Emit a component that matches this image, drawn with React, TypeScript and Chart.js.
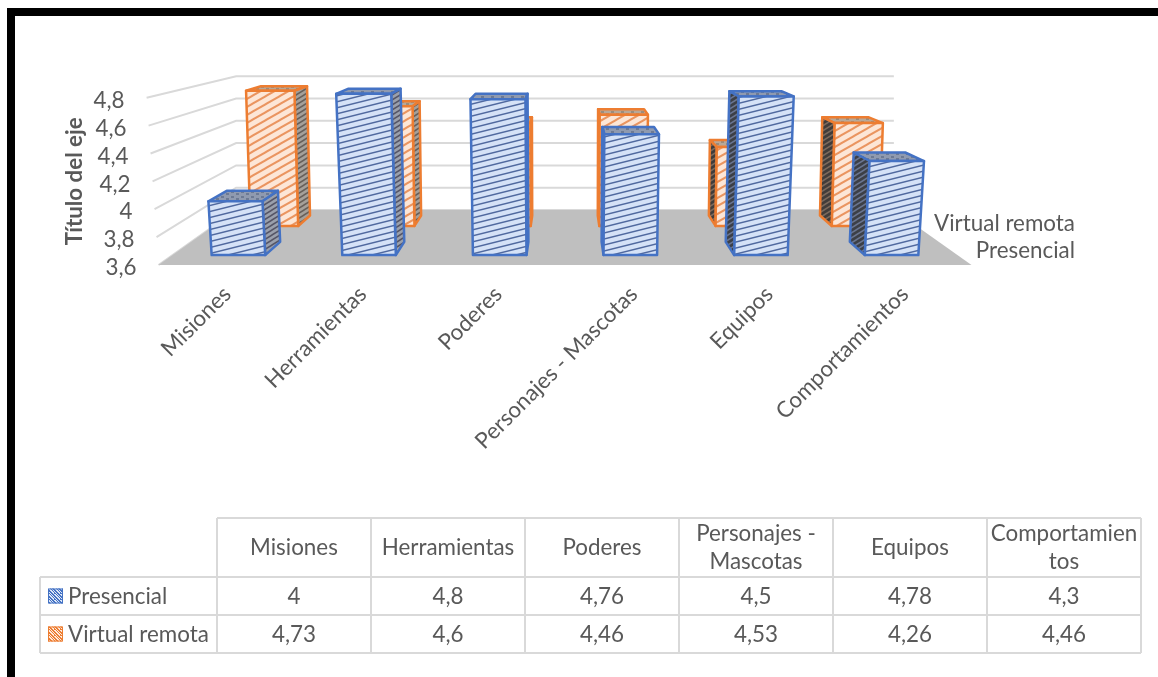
import { useEffect, useRef } from "react";
import { Chart, registerables } from "chart.js";

Chart.register(...registerables);

const categories = ["Misiones", "Herramientas", "Poderes", "Personajes - Mascotas", "Equipos", "Comportamientos"];
const tableHeaders = ["Misiones", "Herramientas", "Poderes", "Personajes -\nMascotas", "Equipos", "Comportamien\ntos"];
const presencial = [4, 4.8, 4.76, 4.5, 4.78, 4.3];
const virtualRemota = [4.73, 4.6, 4.46, 4.53, 4.26, 4.46];
const seriesNames = ["Presencial", "Virtual remota"];
const axisTitle = "Título del eje";
const AXIS_MIN = 3.6;
const AXIS_MAX = 4.8;

const FONT = "Lato";
const FONT_SIZE = 22.4;
const TEXT = "#595959";
const GRID = "#d9d9d9";
const BLUE = "#4472c4";
const ORANGE = "#ed7d31";

type Plane = { s: number; sx?: number; lean: number };

// Depth planes of the 3D box: scale towards the vanishing point, and how far verticals splay.
const FLOOR_FRONT: Plane = { s: 1, lean: 1.75e-4 };
const WALL: Plane = { s: 0.8, sx: 0.809, lean: 0 };
const FRONT_ROW = { near: { s: 0.964, lean: 1.7e-4 }, far: { s: 0.916, lean: 1.5e-4 } };
const BACK_ROW = { near: { s: 0.858, lean: 1.05e-4 }, far: { s: 0.82, lean: 0.9e-4 } };
const VANISH_Y = -10;

function hatch(bg: string, fg: string, w: number, h: number, lw: number) {
  const c = document.createElement("canvas");
  c.width = w;
  c.height = h;
  const g = c.getContext("2d")!;
  g.fillStyle = bg;
  g.fillRect(0, 0, w, h);
  g.strokeStyle = fg;
  g.lineWidth = lw;
  for (const oy of [-h, 0, h]) {
    g.beginPath();
    g.moveTo(-w, h + oy + h);
    g.lineTo(2 * w, oy - h);
    g.stroke();
  }
  return c;
}

function dots(bg: string, fg: string) {
  const c = document.createElement("canvas");
  c.width = 10;
  c.height = 5;
  const g = c.getContext("2d")!;
  g.fillStyle = bg;
  g.fillRect(0, 0, 10, 5);
  g.fillStyle = fg;
  g.fillRect(1, 1, 3, 2);
  g.fillRect(6, 3, 3, 2);
  return c;
}

function checker(bg: string, fg: string) {
  const c = document.createElement("canvas");
  c.width = 6;
  c.height = 6;
  const g = c.getContext("2d")!;
  g.fillStyle = bg;
  g.fillRect(0, 0, 6, 6);
  g.fillStyle = fg;
  for (let i = 0; i < 6; i++) {
    g.fillRect(i, i, 2, 1);
    g.fillRect((i + 3) % 6, i, 1, 1);
  }
  return c;
}

const solid3d = {
  id: "solid3d",
  beforeDatasetsDraw(chart: any) {
    const ctx: CanvasRenderingContext2D = chart.ctx;
    const { left, right, bottom } = chart.chartArea;
    const yScale = chart.scales.y;
    const cx = (left + right) / 2;

    const project = (p: Plane, x: number, y: number): [number, number] => {
      const py = VANISH_Y + (y - VANISH_Y) * p.s;
      const baseY = VANISH_Y + (bottom - VANISH_Y) * p.s;
      const splay = 1 + p.lean * (baseY - py);
      return [cx + (x - cx) * (p.sx ?? p.s) * splay, py];
    };
    const poly = (pts: [number, number][], fill: any, stroke?: string, lw = 2.5) => {
      ctx.beginPath();
      pts.forEach((q, i) => (i ? ctx.lineTo(q[0], q[1]) : ctx.moveTo(q[0], q[1])));
      ctx.closePath();
      ctx.fillStyle = fill;
      ctx.fill();
      if (stroke) {
        ctx.strokeStyle = stroke;
        ctx.lineWidth = lw;
        ctx.lineJoin = "round";
        ctx.stroke();
      }
    };

    ctx.save();

    // Back wall and side wall gridlines
    ctx.strokeStyle = GRID;
    ctx.lineWidth = 2;
    yScale.ticks.forEach((t: any) => {
      const y = yScale.getPixelForValue(t.value);
      const a = project(FLOOR_FRONT, left, y);
      const b = project(WALL, left, y);
      const c = project(WALL, right, y);
      ctx.beginPath();
      ctx.moveTo(a[0], a[1]);
      ctx.lineTo(b[0], b[1]);
      ctx.lineTo(c[0], c[1]);
      ctx.stroke();
    });

    // Floor
    poly(
      [project(FLOOR_FRONT, left, bottom), project(FLOOR_FRONT, right, bottom), project(WALL, right, bottom), project(WALL, left, bottom)],
      "#bfbfbf"
    );

    // Tick labels follow the slanted front edge of the side wall
    ctx.font = `${FONT_SIZE}px ${FONT}`;
    ctx.fillStyle = TEXT;
    ctx.textAlign = "right";
    ctx.textBaseline = "middle";
    yScale.ticks.forEach((t: any) => {
      const y = yScale.getPixelForValue(t.value);
      const a = project(FLOOR_FRONT, left, y);
      ctx.fillText(String(t.label), a[0] - 22, y + 3);
    });

    // Depth axis labels
    ctx.fillText(seriesNames[1], 1075, 223.5);
    ctx.fillText(seriesNames[0], 1075, 250.5);

    const pat = (c: HTMLCanvasElement) => ctx.createPattern(c, "repeat")!;
    const looks = [
      {
        row: FRONT_ROW,
        line: BLUE,
        front: pat(hatch("#d5e2f7", "#50699f", 24, 6, 1.5)),
        top: pat(dots("#8f9ab0", "#6d7a94")),
        sideL: pat(hatch("#3c3f46", "#6a7590", 8, 5, 1.5)),
        sideR: pat(hatch("#9aa0ac", "#556", 8, 5, 1.5)),
      },
      {
        row: BACK_ROW,
        line: ORANGE,
        front: pat(hatch("#fde6d6", "#ea9560", 14, 8, 2)),
        top: pat(dots("#b8a898", "#9b8c7c")),
        sideL: pat(hatch("#403c3a", "#7c6a5c", 8, 5, 1.5)),
        sideR: pat(hatch("#a5a09a", "#665f5a", 8, 5, 1.5)),
      },
    ];

    // The back row is painted first so the front row overlaps it
    [1, 0].forEach((di) => {
      const look = looks[di];
      chart.getDatasetMeta(di).data.forEach((bar: any) => {
        const hw = bar.width / 2;
        const x0 = bar.x - hw;
        const x1 = bar.x + hw;
        const top = bar.y;
        const base = bar.base;
        const { near, far } = look.row;
        const onLeft = project(near, bar.x, base)[0] < cx;
        const edge = onLeft ? x1 : x0;

        poly(
          [project(near, x0, top), project(far, x0, top), project(far, x1, top), project(near, x1, top)],
          look.top,
          look.line
        );
        poly(
          [project(near, edge, base), project(far, edge, base), project(far, edge, top), project(near, edge, top)],
          onLeft ? look.sideR : look.sideL,
          look.line
        );
        poly(
          [project(near, x0, base), project(near, x1, base), project(near, x1, top), project(near, x0, top)],
          look.front,
          look.line
        );
      });
    });

    ctx.restore();
    return false;
  },
  afterDraw(chart: any) {
    const ctx: CanvasRenderingContext2D = chart.ctx;
    ctx.save();

    // Data table under the plot
    const colX = [217, 371, 525, 679, 833, 987, 1141];
    const rowY = [518, 577, 615, 653];
    const leftX = 40;
    ctx.strokeStyle = GRID;
    ctx.lineWidth = 2;
    ctx.beginPath();
    ctx.moveTo(colX[0], rowY[0]);
    ctx.lineTo(colX[6], rowY[0]);
    [1, 2, 3].forEach((r) => {
      ctx.moveTo(leftX, rowY[r]);
      ctx.lineTo(colX[6], rowY[r]);
    });
    ctx.moveTo(leftX, rowY[1]);
    ctx.lineTo(leftX, rowY[3]);
    colX.forEach((x) => {
      ctx.moveTo(x, rowY[0]);
      ctx.lineTo(x, rowY[3]);
    });
    ctx.stroke();

    ctx.font = `${FONT_SIZE}px ${FONT}`;
    ctx.fillStyle = TEXT;
    ctx.textAlign = "center";
    ctx.textBaseline = "middle";
    tableHeaders.forEach((h, i) => {
      const lines = h.split("\n");
      const mid = (colX[i] + colX[i + 1]) / 2;
      lines.forEach((ln, k) => ctx.fillText(ln, mid, 547.5 + (k - (lines.length - 1) / 2) * 28));
    });
    [presencial, virtualRemota].forEach((vals, r) => {
      vals.forEach((v, i) => {
        ctx.fillText(String(v).replace(".", ","), (colX[i] + colX[i + 1]) / 2, (rowY[r + 1] + rowY[r + 2]) / 2 + 0.5);
      });
    });

    ctx.textAlign = "left";
    seriesNames.forEach((name, r) => {
      const cy = (rowY[r + 1] + rowY[r + 2]) / 2;
      ctx.fillStyle = TEXT;
      ctx.fillText(name, 68, cy + 0.5);
      ctx.fillStyle = ctx.createPattern(
        r === 0 ? checker(BLUE, "#dce7f8") : checker(ORANGE, "#fdeadd"),
        "repeat"
      )!;
      ctx.fillRect(48, cy - 7.5, 15, 15);
      ctx.strokeStyle = r === 0 ? BLUE : ORANGE;
      ctx.lineWidth = 1;
      ctx.strokeRect(48.5, cy - 7, 14, 14);
    });

    // Black frame along the top and left of the sheet
    ctx.fillStyle = "#000";
    ctx.fillRect(7, 8, 1151, 8);
    ctx.fillRect(7, 8, 8, 669);
    ctx.restore();
  },
};

export default function App() {
  const ref = useRef<HTMLCanvasElement>(null);
  useEffect(() => {
    const chart = new Chart(ref.current!, {
      type: "bar",
      data: {
        labels: categories,
        datasets: [
          { label: seriesNames[0], data: presencial, base: AXIS_MIN, backgroundColor: BLUE, borderColor: BLUE },
          { label: seriesNames[1], data: virtualRemota, base: AXIS_MIN, backgroundColor: ORANGE, borderColor: ORANGE },
        ],
      },
      plugins: [solid3d],
      options: {
        responsive: false,
        animation: false,
        layout: { padding: { left: 0, right: 186.5, top: 97.7, bottom: 0 } },
        datasets: { bar: { grouped: false, barPercentage: 0.41, categoryPercentage: 1 } },
        plugins: { legend: { display: false }, tooltip: { enabled: false } },
        scales: {
          x: {
            grid: { display: false },
            border: { display: false },
            ticks: {
              autoSkip: false,
              minRotation: 45,
              maxRotation: 45,
              padding: 8,
              labelOffset: 1,
              color: TEXT,
              font: { family: FONT, size: FONT_SIZE },
            },
            afterFit(s: any) {
              s.height = 412;
              s.paddingLeft = 0;
              s.paddingRight = 0;
            },
          },
          y: {
            min: AXIS_MIN,
            max: AXIS_MAX,
            grid: { display: false },
            border: { display: false },
            ticks: {
              stepSize: 0.2,
              display: false,
              callback: (v: any) => String(Math.round(Number(v) * 10) / 10).replace(".", ","),
            },
            title: {
              display: true,
              text: axisTitle,
              color: TEXT,
              font: { family: FONT, size: 22.3, weight: "bold" },
              padding: { top: 61, bottom: 0 },
            },
            afterFit(s: any) {
              s.width = 158.5;
              s.paddingTop = 0;
              s.paddingBottom = 0;
            },
          },
        },
      },
    } as any);
    return () => chart.destroy();
  }, []);
  return (
    <div style={{ position: "fixed", left: 0, top: 0, width: 1158, height: 677, background: "#fff" }}>
      <canvas ref={ref} width={1158} height={677} style={{ display: "block" }} />
    </div>
  );
}
